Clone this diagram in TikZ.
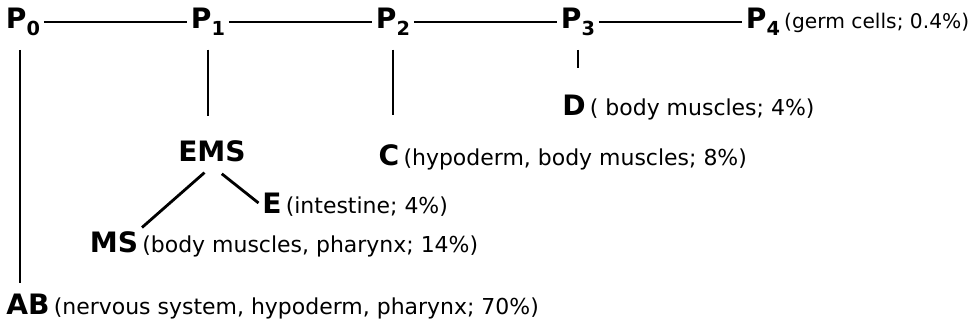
\documentclass[tikz,border=0pt]{standalone}
\usepackage{fontspec}
\setmainfont{DejaVu Sans}
\usetikzlibrary{positioning}
\tikzstyle{cell} = [inner sep=2pt, font=\fontsize{16}{16}\selectfont\bfseries]
\tikzstyle{fate} = [inner sep=0pt, anchor=base west, font=\fontsize{12.5}{15}\selectfont]
\tikzstyle{link} = [line width=1.6pt]
\newcommand{\Pcell}[1]{P\raisebox{-4pt}{\fontsize{11}{11}\selectfont #1}}

\begin{document}
\begin{tikzpicture}[node distance=3.7cm]
    \useasboundingbox (0,0) rectangle (19.5,-6.66);
        % P lineage
        \node[cell] (p0) at (0.46,-0.44) {\Pcell{0}};
        \node[cell, right of=p0] (p1) {\Pcell{1}};
        \node[cell, right of=p1] (p2) {\Pcell{2}};
        \node[cell, right of=p2] (p3) {\Pcell{3}};
        \node[cell, right of=p3] (p4) {\Pcell{4}};
        \node[fate, font=\fontsize{11.5}{14}\selectfont] (p4note) at (p4.base east) {(germ cells; 0.4\%)};
        % founder cells
        \node[cell, below of=p0, node distance=5.64cm, xshift=0.1cm] (ab) {AB};
        \node[fate] (abnote) at (ab.base east) {(nervous system, hypoderm, pharynx; 70\%)};
        \node[cell, below of=p1, node distance=2.59cm, xshift=0.08cm] (ems) {EMS};
        \node[cell, below of=p2, node distance=2.66cm, xshift=-0.08cm] (c) {C};
        \node[fate] (cnote) at (c.base east) {(hypoderm, body muscles; 8\%)};
        \node[cell, below of=p3, node distance=1.66cm, xshift=-0.08cm] (d) {D};
        \node[fate] (dnote) at (d.base east) {( body muscles; 4\%)};
        \node[cell, below of=ems, node distance=1.03cm, xshift=1.2cm] (e) {E};
        \node[fate] (enote) at (e.base east) {(intestine; 4\%)};
        \node[cell, below of=ems, node distance=1.81cm, xshift=-1.96cm] (ms) {MS};
        \node[fate] (msnote) at (ms.base east) {(body muscles, pharynx; 14\%)};
        \draw[link] (p0) -- (p1);
        \draw[link] (p1) -- (p2);
        \draw[link] (p2) -- (p3);
        \draw[link] (p3) -- (p4);
        \draw[link, shorten <=0.2cm, shorten >=0.14cm] ([xshift=-0.06cm]p0.south) -- ([xshift=-0.06cm]p0.south |- ab.north);
        \draw[link, shorten <=0.2cm, shorten >=0.42cm] (p1.south) -- (p1.south |- ems.north);
        \draw[link, shorten <=0.2cm, shorten >=0.52cm] (p2.south) -- (p2.south |- c.north);
        \draw[link, shorten <=0.2cm, shorten >=0.46cm] (p3.south) -- (p3.south |- d.north);
        \draw[link, shorten <=0.2cm] (ems.south) -- (ms.north east);
        \draw[link, shorten <=0.25cm] (ems.south) -- (e.west);
    \end{tikzpicture}
\end{document}
